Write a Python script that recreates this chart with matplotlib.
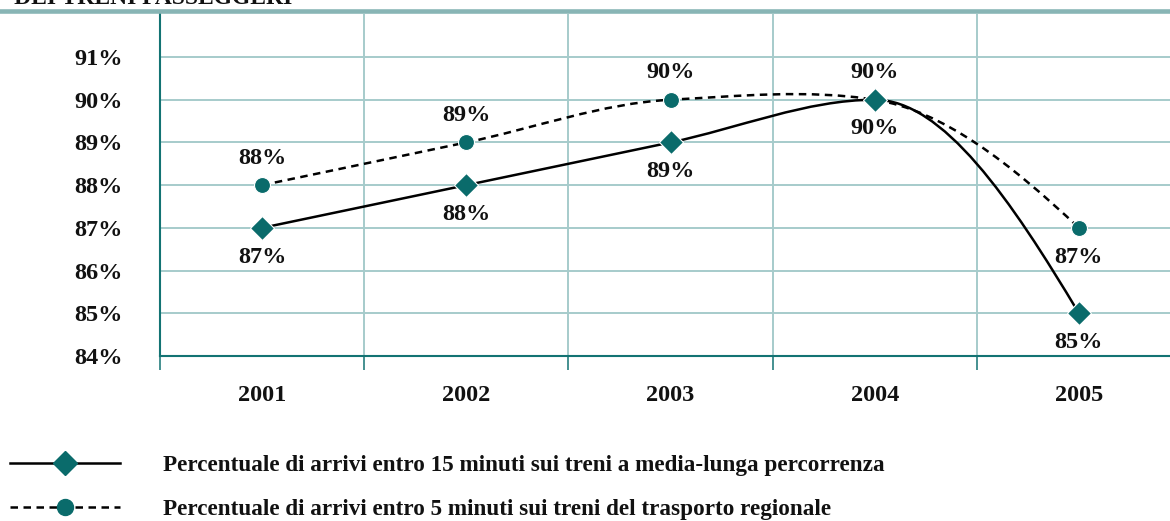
import numpy as np
import matplotlib
matplotlib.use("Agg")
import matplotlib.pyplot as plt
from matplotlib.path import Path
from matplotlib.patches import PathPatch
from matplotlib.lines import Line2D

# data
years = ["2001", "2002", "2003", "2004", "2005"]
long_haul = [87, 88, 89, 90, 85]   # arrivi entro 15 minuti, media-lunga percorrenza
regional = [88, 89, 90, 90, 87]    # arrivi entro 5 minuti, trasporto regionale
y_ticks = [84, 85, 86, 87, 88, 89, 90, 91]
legend_labels = [
    "Percentuale di arrivi entro 15 minuti sui treni a media-lunga percorrenza",
    "Percentuale di arrivi entro 5 minuti sui treni del trasporto regionale",
]
title_text = "• DEI TRENI PASSEGGERI"

# where each data label sits (above / below its point)
long_haul_side = ["below"] * 5
regional_side = ["above", "above", "above", "above", "below"]

TEAL = "#0a6b6b"
SPINE = "#137373"
GRID = "#a6cbcb"
HEADER = "#88b5b5"
FONT = "Liberation Serif"
FS = 17.5


# slopes for a smoothed line: centred differences, flat at local peaks,
# softer next to flat steps, one-sided (pchip style) at the ends
def smooth_slopes(y):
    y = np.asarray(y, dtype=float)
    d = np.diff(y)
    m = np.zeros_like(y)
    for k in range(1, len(y) - 1):
        c = (y[k + 1] - y[k - 1]) / 2
        if d[k - 1] * d[k] < 0:
            m[k] = 0.0
        elif d[k - 1] * d[k] == 0:
            m[k] = c / 2
        else:
            m[k] = c
    for k, d0, d1 in [(0, d[0], d[1]), (len(y) - 1, d[-1], d[-2])]:
        e = (3 * d0 - d1) / 2
        if np.sign(e) != np.sign(d0):
            e = 0.0
        elif np.sign(d0) != np.sign(d1) and abs(e) > 3 * abs(d0):
            e = 3 * d0
        m[k] = e
    return m


# builds a bezier path through the points (hermite -> cubic bezier)
def smooth_path(y):
    x = np.arange(len(y), dtype=float)
    m = smooth_slopes(y)
    verts = [(x[0], y[0])]
    codes = [Path.MOVETO]
    for i in range(len(y) - 1):
        verts += [(x[i] + 1 / 3, y[i] + m[i] / 3),
                  (x[i + 1] - 1 / 3, y[i + 1] - m[i + 1] / 3),
                  (x[i + 1], y[i + 1])]
        codes += [Path.CURVE4] * 3
    return Path(verts, codes)


fig = plt.figure(figsize=(11.7, 5.21), dpi=100)
ax = fig.add_axes([160 / 1170, 1 - 356 / 521, 1021 / 1170, (356 - 14.3) / 521])

ax.set_xlim(-0.5, 4.5)
ax.set_ylim(84, 92)

# grid
ax.set_yticks(y_ticks)
ax.set_yticklabels([f"{v}%" for v in y_ticks])
ax.set_xticks(range(len(years)))
ax.set_xticklabels(years)
ax.set_xticks(np.arange(-0.5, len(years)), minor=True)
ax.grid(axis="y", which="major", color=GRID, lw=1.4)
ax.grid(axis="x", which="minor", color=GRID, lw=1.4)
ax.set_axisbelow(True)

ax.tick_params(axis="both", which="major", length=0)
ax.tick_params(axis="y", pad=27)
ax.tick_params(axis="x", pad=21)
ax.tick_params(axis="x", which="minor", direction="out", length=10, width=1.1, color=SPINE)
for lab in ax.get_xticklabels() + ax.get_yticklabels():
    lab.set_fontfamily(FONT)
    lab.set_fontweight("bold")
    lab.set_fontsize(FS)
    lab.set_color("#111111")

for s in ["top", "right"]:
    ax.spines[s].set_visible(False)
ax.spines["left"].set_color(SPINE)
ax.spines["left"].set_linewidth(1.5)
ax.spines["bottom"].set_color(SPINE)
ax.spines["bottom"].set_linewidth(1.5)

# lines
ax.add_patch(PathPatch(smooth_path(long_haul), fill=False, color="black", lw=1.8,
                       capstyle="butt", zorder=3))
ax.add_patch(PathPatch(smooth_path(regional), fill=False, color="black", lw=1.8,
                       linestyle=(0, (3, 2.2)), capstyle="butt", zorder=3))

x = np.arange(len(years))
ax.plot(x, regional, ls="none", marker="o", ms=11.5, color=TEAL, mec="white", mew=0.8, zorder=4)
ax.plot(x, long_haul, ls="none", marker="D", ms=12, color=TEAL, mec="white", mew=0.8, zorder=5)

# data labels
offsets = {"above": 19.5, "below": -21}
for vals, sides in [(long_haul, long_haul_side), (regional, regional_side)]:
    for xi, v, side in zip(x, vals, sides):
        ax.annotate(f"{v}%", (xi, v), xytext=(0, offsets[side]), textcoords="offset points",
                    ha="center", va="center", fontfamily=FONT, fontweight="bold",
                    fontsize=FS, color="#111111", zorder=6)

# header band and cut-off title
fig.add_artist(Line2D([0, 1], [1 - 10.5 / 521] * 2, color=HEADER, lw=3.3,
                      transform=fig.transFigure))
fig.text(0.0, 1 - 4 / 521, title_text, ha="left", va="baseline", fontfamily=FONT,
         fontweight="bold", fontsize=17, color="#111111")

# legend
handles = [
    Line2D([], [], color="black", lw=1.8, marker="D", ms=12, mfc=TEAL, mec=TEAL),
    Line2D([], [], color="black", lw=1.8, ls=(0, (3, 2.2)), marker="o", ms=11.5,
           mfc=TEAL, mec=TEAL),
]
leg = fig.legend(handles, legend_labels, loc="upper left",
                 bbox_to_anchor=(10 / 1170, 1 - 455 / 521), frameon=False,
                 prop={"family": FONT, "weight": "bold", "size": 16.7},
                 handlelength=4.75, handletextpad=1.85, labelspacing=0.98,
                 borderpad=0, borderaxespad=0)
for t in leg.get_texts():
    t.set_color("#111111")

fig.savefig("out.png", dpi=100)
